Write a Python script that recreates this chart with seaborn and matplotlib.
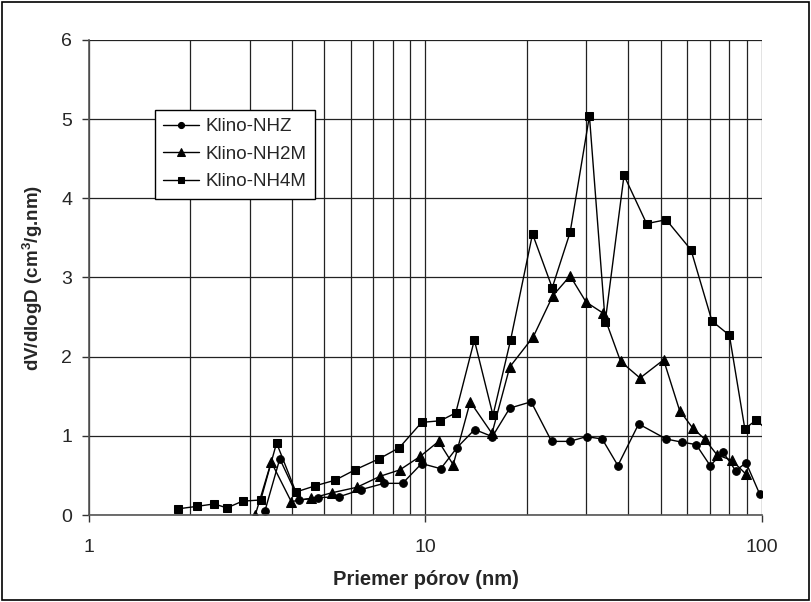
import numpy as np
import pandas as pd
import matplotlib
matplotlib.use("Agg")
import matplotlib.pyplot as plt
import seaborn as sns
from matplotlib.ticker import LogLocator, NullFormatter, FixedLocator

sns.set_style("white")
plt.rcParams['font.family'] = ['Liberation Sans', 'DejaVu Sans']
plt.rcParams['mathtext.fontset'] = 'custom'
plt.rcParams['mathtext.rm'] = 'Liberation Sans:bold'
plt.rcParams['mathtext.bf'] = 'Liberation Sans:bold'

# Klino-NHZ (circles)
nhz_x = [3.33, 3.69, 4.21, 4.80, 5.53, 6.43, 7.53, 8.55, 9.74, 11.1, 12.4, 14.0, 15.8, 17.8, 20.6,
         23.7, 26.8, 30.1, 33.5, 37.3, 43.0, 51.9, 57.8, 63.7, 70.1, 76.7, 83.5, 89.7, 98.4]
nhz_y = [0.045, 0.71, 0.19, 0.22, 0.23, 0.32, 0.40, 0.40, 0.65, 0.585, 0.85, 1.08, 0.99, 1.35, 1.43,
         0.93, 0.93, 0.99, 0.96, 0.625, 1.15, 0.96, 0.92, 0.89, 0.625, 0.79, 0.56, 0.66, 0.265]

# Klino-NH2M (triangles)
nh2m_x = [3.12, 3.48, 3.99, 4.57, 5.26, 6.25, 7.34, 8.39, 9.64, 10.94, 12.09, 13.58, 15.76, 17.8,
          20.9, 23.9, 26.9, 30.0, 33.7, 38.0, 43.4, 51.0, 56.9, 62.2, 67.5, 73.5, 81.4, 89.4]
nh2m_y = [0.0, 0.67, 0.17, 0.21, 0.28, 0.35, 0.49, 0.57, 0.74, 0.93, 0.635, 1.43, 1.03, 1.87,
          2.25, 2.77, 3.02, 2.69, 2.55, 1.94, 1.73, 1.96, 1.32, 1.10, 0.96, 0.76, 0.69, 0.52]

# Klino-NH4M (squares)
nh4m_x = [1.84, 2.10, 2.355, 2.57, 2.86, 3.24, 3.61, 4.12, 4.71, 5.39, 6.17, 7.28, 8.36, 9.74,
          11.06, 12.3, 13.97, 15.87, 17.9, 20.8, 23.8, 26.9, 30.7, 34.2, 38.9, 45.4, 51.9, 61.5,
          71.0, 80.0, 88.9, 96.2, 106.0]
nh4m_y = [0.078, 0.11, 0.14, 0.09, 0.175, 0.19, 0.91, 0.29, 0.37, 0.44, 0.57, 0.71, 0.85, 1.17,
          1.19, 1.29, 2.21, 1.26, 2.21, 3.55, 2.87, 3.57, 5.04, 2.44, 4.29, 3.68, 3.73, 3.35,
          2.45, 2.27, 1.09, 1.20, 1.03]

labels = ["Klino-NHZ", "Klino-NH2M", "Klino-NH4M"]
y_ticks = [0, 1, 2, 3, 4, 5, 6]
x_ticks = [1, 10, 100]
x_tick_labels = ["1", "10", "100"]

fig = plt.figure(figsize=(8.11, 6.02), dpi=100)
fig.patch.set_facecolor("white")
ax = fig.add_axes([0.1097, 0.1445, 0.8299, 0.7891])

series = [(nhz_x, nhz_y, "o", 5.5), (nh2m_x, nh2m_y, "^", 6.5), (nh4m_x, nh4m_y, "s", 6)]
for (xs, ys, m, ms), lab in zip(series, labels):
    df = pd.DataFrame({"x": xs, "y": ys})
    sns.lineplot(data=df, x="x", y="y", ax=ax, color="black", marker=m, markersize=ms,
                 markeredgecolor="black", markerfacecolor="black", linewidth=1.0,
                 sort=False, estimator=None, label=lab)

ax.set_xscale("log")
ax.set_xlim(1, 100)
ax.set_ylim(0, 6)
ax.xaxis.set_major_locator(FixedLocator(x_ticks))
ax.set_xticklabels(x_tick_labels)
ax.xaxis.set_minor_locator(LogLocator(base=10, subs=np.arange(2, 10)))
ax.xaxis.set_minor_formatter(NullFormatter())
ax.set_yticks(y_ticks)
ax.set_yticklabels([str(v) for v in y_ticks])

ax.grid(True, which="major", axis="both", color="#222222", linewidth=0.9)
ax.grid(True, which="minor", axis="x", color="#222222", linewidth=0.9)
for s in ["top", "right"]:
    ax.spines[s].set_visible(False)
for s in ["left", "bottom"]:
    ax.spines[s].set_color("#555555")
    ax.spines[s].set_linewidth(1.2)

ax.tick_params(axis="both", which="major", direction="out", length=5, width=1,
               color="#333333", labelsize=14, left=True, bottom=True)
ax.tick_params(axis="x", which="minor", length=0)
ax.tick_params(axis="x", which="major", pad=12)
ax.tick_params(axis="y", which="major", pad=7)

ax.set_xlabel("Priemer pórov (nm)", fontsize=14.5, fontweight="bold", labelpad=10)
ax.set_ylabel(r"dV/dlogD (cm$^{3}$/g.nm)", fontsize=13.5, fontweight="bold", labelpad=12)

leg = ax.legend(loc="upper left", bbox_to_anchor=(0.098, 0.853), fontsize=13.5,
                frameon=True, fancybox=False, edgecolor="black", framealpha=1,
                borderpad=0.45, labelspacing=0.55, handlelength=1.9, handletextpad=0.35,
                borderaxespad=0, markerscale=0.8)
leg.get_frame().set_linewidth(1.0)

# figure border
fig.patches.append(plt.Rectangle((0.003, 0.003), 0.994, 0.994, transform=fig.transFigure,
                                 fill=False, edgecolor="black", linewidth=1.2))

fig.savefig("out.png", dpi=100)
